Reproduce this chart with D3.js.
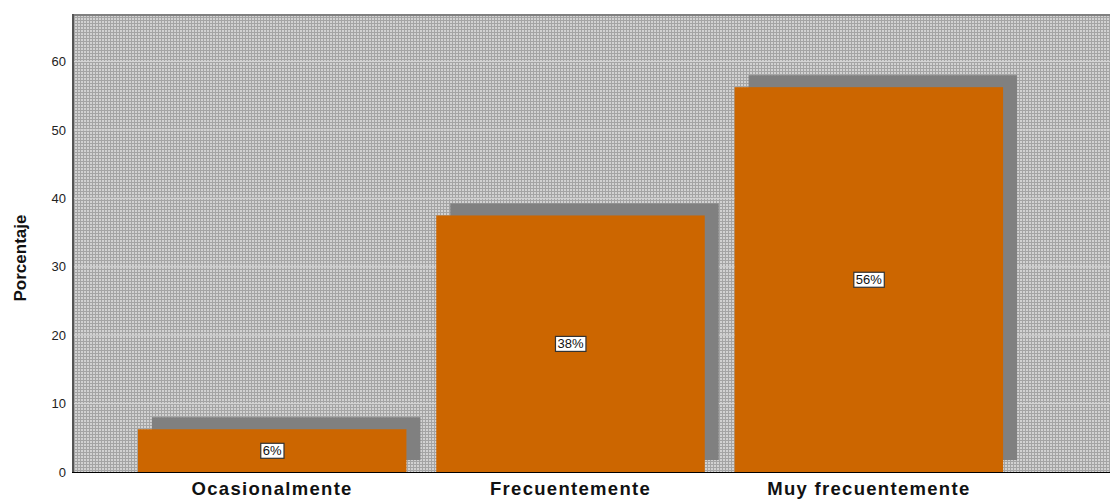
<!DOCTYPE html>
<html lang="es">
<head>
<meta charset="UTF-8">
<title>Porcentaje</title>
<script src="https://d3js.org/d3.v7.min.js"></script>
<style>
  body { margin: 0; background: #fff; font-family: "Liberation Sans", Arial, sans-serif; }
</style>
</head>
<body>
<div id="chart"></div>
<script>
// data
const categories = ["Ocasionalmente", "Frecuentemente", "Muy frecuentemente"];
const percents = [6.25, 37.5, 56.25];
const pctLabels = ["6%", "38%", "56%"];
const yTicks = [0, 10, 20, 30, 40, 50, 60];

const width = 1110, height = 500;
const plotLeft = 73, plotTop = 15, plotRight = 1110, plotBottom = 472;

const svg = d3.select("#chart").append("svg")
  .attr("width", width).attr("height", height);

// dotted background pattern
const pat = svg.append("defs").append("pattern")
  .attr("id", "dots").attr("patternUnits", "userSpaceOnUse")
  .attr("width", 3).attr("height", 3);
pat.append("rect").attr("width", 3).attr("height", 3).attr("fill", "#a4a4a4");
pat.append("rect").attr("width", 2).attr("height", 2).attr("fill", "#d2d2d2");

const x = d3.scaleBand().domain(categories)
  .range([123, 1018]).paddingInner(0.1).paddingOuter(0.05);
const y = d3.scaleLinear().domain([0, 66.8]).range([plotBottom, plotTop]);

svg.append("rect")
  .attr("x", plotLeft).attr("y", plotTop)
  .attr("width", plotRight - plotLeft).attr("height", plotBottom - plotTop)
  .attr("fill", "url(#dots)");

// faint grid
svg.append("g").selectAll("line")
  .data(yTicks.slice(1)).join("line")
  .attr("x1", plotLeft).attr("x2", plotRight)
  .attr("y1", d => y(d)).attr("y2", d => y(d))
  .attr("stroke", "#d4d4d4").attr("stroke-width", 1);

// shadows
const sdx = 14, sdy = -12;
svg.append("g").selectAll("rect")
  .data(categories).join("rect")
  .attr("x", d => x(d) + sdx)
  .attr("y", (d, i) => y(percents[i]) + sdy)
  .attr("width", x.bandwidth())
  .attr("height", (d, i) => y(0) - y(percents[i]))
  .attr("fill", "#808080");

// bars
svg.append("g").selectAll("rect")
  .data(categories).join("rect")
  .attr("x", d => x(d))
  .attr("y", (d, i) => y(percents[i]))
  .attr("width", x.bandwidth())
  .attr("height", (d, i) => y(0) - y(percents[i]))
  .attr("fill", "#cc6600");

// frame lines
svg.append("line").attr("x1", plotLeft).attr("x2", plotRight).attr("y1", plotTop).attr("y2", plotTop)
  .attr("stroke", "#808080").attr("stroke-width", 2);
svg.append("line").attr("x1", plotLeft).attr("x2", plotLeft).attr("y1", plotTop - 1).attr("y2", plotBottom)
  .attr("stroke", "#555").attr("stroke-width", 2);
svg.append("line").attr("x1", plotLeft - 1).attr("x2", plotRight).attr("y1", plotBottom + 0.5).attr("y2", plotBottom + 0.5)
  .attr("stroke", "#000").attr("stroke-width", 1);

// y tick labels
const yAxis = d3.axisLeft(y).tickValues(yTicks).tickSize(0).tickPadding(7);
const ya = svg.append("g").attr("transform", `translate(${plotLeft},0)`).call(yAxis);
ya.select(".domain").remove();
ya.selectAll("text").attr("font-size", 13).attr("font-family", "Liberation Sans, Arial, sans-serif")
  .attr("fill", "#222");

// y title
svg.append("text")
  .attr("transform", "translate(26,258) rotate(-90)")
  .attr("text-anchor", "middle")
  .attr("font-size", 17).attr("font-weight", "bold")
  .attr("fill", "#111")
  .text("Porcentaje");

// x labels
svg.append("g").selectAll("text")
  .data(categories).join("text")
  .attr("x", d => x(d) + x.bandwidth() / 2)
  .attr("y", 495)
  .attr("text-anchor", "middle")
  .attr("font-size", 18.5).attr("font-weight", "bold")
  .attr("letter-spacing", 1.3)
  .attr("fill", "#111")
  .text(d => d);

// value boxes
const lab = svg.append("g").selectAll("g")
  .data(categories).join("g")
  .attr("transform", (d, i) =>
    `translate(${x(d) + x.bandwidth() / 2},${(y(percents[i]) + y(0)) / 2})`);
lab.append("text")
  .attr("text-anchor", "middle").attr("dy", "0.36em")
  .attr("font-size", 13).attr("fill", "#111")
  .text((d, i) => pctLabels[i]);
lab.each(function() {
  const g = d3.select(this);
  const b = g.select("text").node().getBBox();
  g.insert("rect", "text")
    .attr("x", b.x - 2).attr("y", b.y)
    .attr("width", b.width + 4).attr("height", b.height)
    .attr("fill", "#fff").attr("stroke", "#333").attr("stroke-width", 1.2);
});
</script>
</body>
</html>
